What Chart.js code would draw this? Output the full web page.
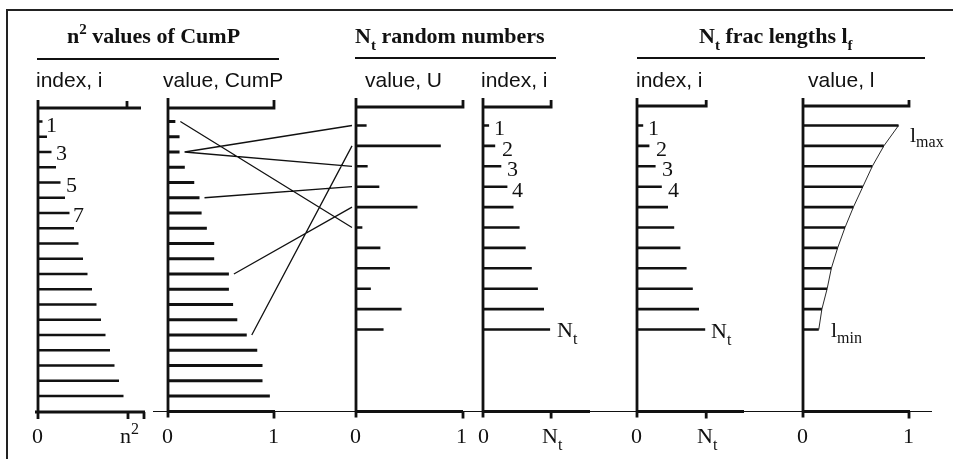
<!DOCTYPE html>
<html>
<head>
<meta charset="utf-8">
<script src="https://cdn.jsdelivr.net/npm/chart.js@4.4.1/dist/chart.umd.min.js"></script>
<style>
  html, body { margin: 0; padding: 0; background: #fff; }
  #wrap { width: 953px; height: 459px; }
</style>
</head>
<body>
<div id="wrap"><canvas id="chart" width="953" height="459"></canvas></div>
<script>
// values
const cumIndex = [1, 2, 3, 4, 5, 6, 7, 8, 9, 10, 11, 12, 13, 14, 15, 16, 17, 18, 19];
const cumP = [0.07, 0.11, 0.11, 0.16, 0.25, 0.30, 0.32, 0.37, 0.44, 0.44, 0.58, 0.58, 0.62, 0.66, 0.75, 0.85, 0.90, 0.90, 0.97];
const randU = [0.10, 0.80, 0.11, 0.22, 0.58, 0.06, 0.23, 0.32, 0.14, 0.43, 0.26];
const randIndex = [1, 2, 3, 4, 5, 6, 7, 8, 9, 10, 11];
const fracIndex = [1, 2, 3, 4, 5, 6, 7, 8, 9, 10, 11];
const fracLength = [0.91, 0.77, 0.66, 0.57, 0.48, 0.40, 0.33, 0.27, 0.23, 0.18, 0.15];
// CumP bar -> random number bar (the drawn connectors)
const links = [[1, 6], [3, 1], [3, 3], [6, 4], [11, 5], [15, 2]];
const indexMax = 20;  // position of the n^2 tick
const nt = 11;        // N_t

// layout, in page units (the scales run 0..953 and 0..459)
const rowA = i => 121.5 + (i - 1) * 15.25;
const rowB = i => 125.5 + (i - 1) * 20.4;
const baseY = 411.5;
const p1 = { x0: 38, unit: 4.5 };
const p2 = { x0: 168, unit: 105 };
const p3 = { x0: 356, unit: 106 };
const p4 = { x0: 483, unit: 6.1 };
const p5 = { x0: 637, unit: 6.2 };
const p6 = { x0: 803, unit: 105 };

function toData(segments) {
    const out = [];
    segments.forEach(s => {
        s.forEach(p => out.push({ x: p[0], y: p[1] }));
        out.push({ x: s[s.length - 1][0], y: null });
    });
    return out;
}

function barSegs(panel, values, row) {
    return values.map((v, k) => [[panel.x0, row(k + 1)], [panel.x0 + v * panel.unit, row(k + 1)]]);
}

// axes, brackets and ticks
const axisSegs = [];
const tick = x => axisSegs.push([[x, baseY], [x, baseY + 7]]);
// panel 1
axisSegs.push([[p1.x0, 100], [p1.x0, 419]]);
axisSegs.push([[p1.x0, 108], [141, 108]]);
axisSegs.push([[p1.x0 + indexMax * p1.unit - 1, 101], [p1.x0 + indexMax * p1.unit - 1, 108]]);
axisSegs.push([[35, 412], [145, 412]]);
axisSegs.push([[p1.x0 + indexMax * p1.unit, 412], [p1.x0 + indexMax * p1.unit, 419]]);
axisSegs.push([[144, 412], [144, 419]]);
// panels 2-6
[[p2, 1, 98, 108], [p3, 1, 98, 107], [p4, nt, 98, 107], [p5, nt, 98, 106], [p6, 1, 98, 106]].forEach(([p, max, top, by]) => {
    const xe = p.x0 + max * p.unit;
    axisSegs.push([[p.x0, top], [p.x0, baseY + 6]]);
    axisSegs.push([[p.x0, by], [xe + 1, by], [xe + 1, 100]]);
    axisSegs.push([[p.x0, baseY], [p.x0 + 107, baseY]]);
    tick(xe + 1);
});

const linkSegs = links.map(([a, b]) => [
    [p2.x0 + cumP[a - 1] * p2.unit + 5, rowA(a)],
    [p3.x0 - 4, rowB(b)]
]);

const curve = [fracLength.map((v, k) => [p6.x0 + v * p6.unit, rowB(k + 1)])];

const frame = [[[7, 459], [7, 10], [953, 10]]];
const baseline = [[[153, baseY], [932, baseY]]];

function ds(segs, width, color) {
    return {
        data: toData(segs),
        borderColor: color || '#111',
        borderWidth: width,
        pointRadius: 0,
        spanGaps: false,
        tension: 0,
        clip: false,
        borderCapStyle: 'butt',
        borderJoinStyle: 'miter'
    };
}

// text drawn on top, placed through the same scales
function rich(ctx, xs, ys, x, y, parts) {
    let cx = xs.getPixelForValue(x);
    const py = ys.getPixelForValue(y);
    parts.forEach(p => {
        ctx.font = p.font;
        ctx.fillText(p.t, cx, py + (p.dy || 0));
        cx += ctx.measureText(p.t).width;
    });
}

const SERIF = '"Liberation Serif", "Times New Roman", serif';
const SANS = '"Liberation Sans", Arial, sans-serif';
const tB = 'bold 22px ' + SERIF, tBs = 'bold 15px ' + SERIF;
const num = '22px ' + SERIF, numS = '16px ' + SERIF;
const tk = '22px ' + SERIF, tkS = '16px ' + SERIF;
const hd = '21px ' + SANS;

const labels = [
    // titles
    [67, 43, [{ t: 'n', font: tB }, { t: '2', font: tBs, dy: -9 }, { t: ' values of CumP', font: tB }]],
    [355, 43, [{ t: 'N', font: tB }, { t: 't', font: tBs, dy: 7 }, { t: ' random numbers', font: tB }]],
    [699, 43, [{ t: 'N', font: tB }, { t: 't', font: tBs, dy: 7 }, { t: ' frac lengths l', font: tB }, { t: 'f', font: tBs, dy: 7 }]],
    // column headers
    [36, 87, [{ t: 'index, i', font: hd }]],
    [163, 87, [{ t: 'value, CumP', font: hd }]],
    [365, 87, [{ t: 'value, U', font: hd }]],
    [481, 87, [{ t: 'index, i', font: hd }]],
    [636, 87, [{ t: 'index, i', font: hd }]],
    [808, 87, [{ t: 'value, l', font: hd }]],
    // bar labels
    [46, rowA(1) + 10, [{ t: '1', font: num }]],
    [56, rowA(3) + 8, [{ t: '3', font: num }]],
    [66, rowA(5) + 9, [{ t: '5', font: num }]],
    [73, rowA(7) + 9, [{ t: '7', font: num }]],
    [494, rowB(1) + 9, [{ t: '1', font: num }]],
    [502, rowB(2) + 10, [{ t: '2', font: num }]],
    [507, rowB(3) + 10, [{ t: '3', font: num }]],
    [512, rowB(4) + 10, [{ t: '4', font: num }]],
    [557, rowB(11) + 7, [{ t: 'N', font: num }, { t: 't', font: numS, dy: 7 }]],
    [648, rowB(1) + 9, [{ t: '1', font: num }]],
    [656, rowB(2) + 10, [{ t: '2', font: num }]],
    [662, rowB(3) + 10, [{ t: '3', font: num }]],
    [668, rowB(4) + 10, [{ t: '4', font: num }]],
    [711, rowB(11) + 8, [{ t: 'N', font: num }, { t: 't', font: numS, dy: 7 }]],
    [910, 142, [{ t: 'l', font: num }, { t: 'max', font: numS, dy: 5 }]],
    [831, 337, [{ t: 'l', font: num }, { t: 'min', font: numS, dy: 6 }]],
    // tick labels
    [32, 443, [{ t: '0', font: tk }]],
    [120, 443, [{ t: 'n', font: tk }, { t: '2', font: tkS, dy: -9 }]],
    [162, 443, [{ t: '0', font: tk }]],
    [268, 443, [{ t: '1', font: tk }]],
    [350, 443, [{ t: '0', font: tk }]],
    [456, 443, [{ t: '1', font: tk }]],
    [478, 443, [{ t: '0', font: tk }]],
    [542, 443, [{ t: 'N', font: tk }, { t: 't', font: tkS, dy: 7 }]],
    [631, 443, [{ t: '0', font: tk }]],
    [697, 443, [{ t: 'N', font: tk }, { t: 't', font: tkS, dy: 7 }]],
    [797, 443, [{ t: '0', font: tk }]],
    [903, 443, [{ t: '1', font: tk }]]
];

const textPlugin = {
    id: 'texts',
    afterDatasetsDraw(chart) {
        const ctx = chart.ctx;
        const xs = chart.scales.x, ys = chart.scales.y;
        ctx.save();
        ctx.fillStyle = '#111';
        ctx.textBaseline = 'alphabetic';
        ctx.textAlign = 'left';
        labels.forEach(([x, y, parts]) => rich(ctx, xs, ys, x, y, parts));
        // title underlines
        ctx.strokeStyle = '#111';
        ctx.lineWidth = 2;
        [[37, 279, 59], [355, 556, 58], [637, 925, 58]].forEach(([a, b, y]) => {
            ctx.beginPath();
            ctx.moveTo(xs.getPixelForValue(a), ys.getPixelForValue(y));
            ctx.lineTo(xs.getPixelForValue(b), ys.getPixelForValue(y));
            ctx.stroke();
        });
        ctx.restore();
    }
};

new Chart(document.getElementById('chart'), {
    type: 'line',
    data: {
        datasets: [
            ds(frame, 2, '#222'),
            ds(baseline, 1.2),
            ds(axisSegs, 2.8),
            ds(barSegs(p1, cumIndex, rowA), 2.6),
            ds(barSegs(p2, cumP, rowA), 2.8),
            ds(barSegs(p3, randU, rowB), 2.6),
            ds(barSegs(p4, randIndex, rowB), 2.6),
            ds(barSegs(p5, fracIndex, rowB), 2.6),
            ds(barSegs(p6, fracLength, rowB), 2.6),
            ds(linkSegs, 1.3),
            ds(curve, 0.9)
        ]
    },
    options: {
        responsive: false,
        animation: false,
        layout: { padding: 0 },
        plugins: { legend: { display: false }, tooltip: { enabled: false } },
        scales: {
            x: { type: 'linear', min: 0, max: 953, display: false },
            y: { type: 'linear', min: 0, max: 459, reverse: true, display: false }
        }
    },
    plugins: [textPlugin]
});
</script>
</body>
</html>
